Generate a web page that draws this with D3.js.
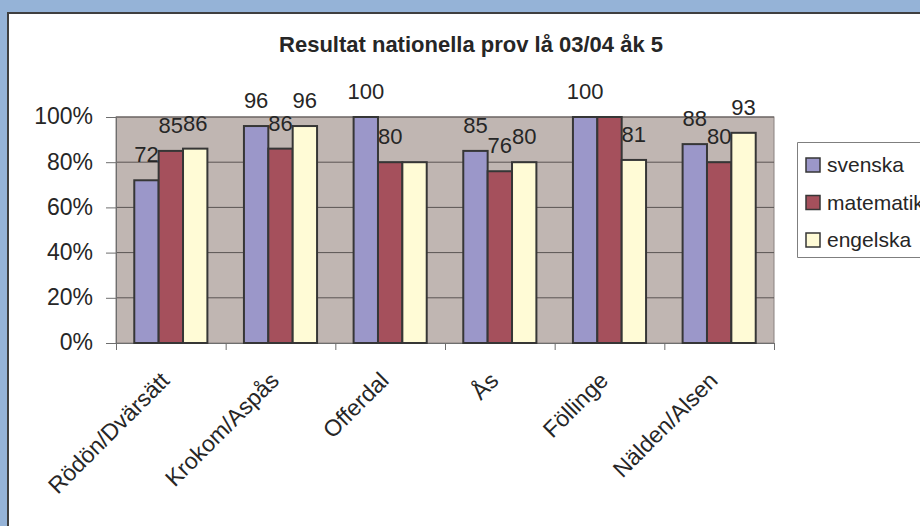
<!DOCTYPE html>
<html>
<head>
<meta charset="utf-8">
<script src="https://cdn.jsdelivr.net/npm/d3@7"></script>
<style>
  html, body { margin: 0; padding: 0; overflow: hidden; background: #95b3d7; }
  svg { display: block; }
  text { font-family: "Liberation Sans", Arial, sans-serif; fill: #262626; }
</style>
</head>
<body>
<script>

//Data
var categories = ["Rödön/Dvärsätt", "Krokom/Aspås", "Offerdal", "Ås", "Föllinge", "Nälden/Alsen"];
var seriesNames = ["svenska", "matematik", "engelska"];
var svenska = [72, 96, 100, 85, 100, 88];
var matematik = [85, 86, 80, 76, 100, 80];
var engelska = [86, 96, 80, 80, 81, 93];
var yTicks = [0, 20, 40, 60, 80, 100];
//labels that are not shown in the original picture
var hiddenLabels = ["Offerdal|engelska", "Föllinge|matematik"];
var chartTitle = "Resultat nationella prov lå 03/04 åk 5";

var colors = { svenska: "#9b97c9", matematik: "#a5505c", engelska: "#fffbd6" };

//Width and height
var w = 920;
var h = 526;
var plot = { left: 116, right: 774, top: 117, bottom: 343 };

//Create SVG element
var svg = d3.select("body")
    .append("svg")
    .attr("width", w)
    .attr("height", h);

svg.append("rect")
    .attr("width", w).attr("height", h)
    .style("fill", "#95b3d7");

//white chart panel, only top and left edges are visible
svg.append("rect")
    .attr("x", 7).attr("y", 12)
    .attr("width", w).attr("height", h)
    .style("fill", "#fff");
svg.append("path")
    .attr("d", "M8," + h + "V13H" + w)
    .style("fill", "none")
    .style("stroke", "#3f3f3f")
    .style("stroke-width", 2);

//Title
svg.append("text")
    .attr("x", 471).attr("y", 52)
    .attr("text-anchor", "middle")
    .style("font-size", "22px")
    .style("font-weight", "bold")
    .text(chartTitle);

//Scales
var x = d3.scaleBand()
    .domain(categories)
    .range([plot.left, plot.right]);

var xSub = d3.scaleBand()
    .domain(seriesNames)
    .range([0, x.bandwidth()])
    .paddingOuter(0.75);

var y = d3.scaleLinear()
    .domain([0, 100])
    .range([plot.bottom, plot.top]);

//Plot background
svg.append("rect")
    .attr("x", plot.left).attr("y", plot.top)
    .attr("width", plot.right - plot.left)
    .attr("height", plot.bottom - plot.top)
    .style("fill", "#c0b6b2")
    .style("stroke", "#8a8280")
    .style("stroke-width", 1);

//Gridlines
svg.append("g").selectAll("line")
    .data(yTicks.slice(1))
    .enter()
    .append("line")
    .attr("x1", plot.left).attr("x2", plot.right)
    .attr("y1", function (d) { return y(d); })
    .attr("y2", function (d) { return y(d); })
    .style("stroke", "#5a5553")
    .style("stroke-width", 1);

//Y axis
var yAxis = svg.append("g")
    .attr("transform", "translate(" + plot.left + ",0)")
    .call(d3.axisLeft(y).tickValues(yTicks).tickSize(10).tickPadding(13)
        .tickFormat(function (d) { return d + "%"; }));
yAxis.select(".domain").style("stroke", "#6e6e6e");
yAxis.selectAll(".tick line").style("stroke", "#6e6e6e");
yAxis.selectAll("text")
    .style("font-size", "23px")
    .style("font-family", "Liberation Sans, Arial, sans-serif")
    .attr("fill", "#262626")
    .attr("dy", "0.3em");

//X axis ticks at category borders
var xEdges = d3.scaleLinear().domain([0, categories.length]).range([plot.left, plot.right]);
var xAxis = svg.append("g")
    .attr("transform", "translate(0," + plot.bottom + ")")
    .call(d3.axisBottom(xEdges).ticks(categories.length).tickSize(7).tickFormat(""));
xAxis.select(".domain").style("stroke", "#6e6e6e");
xAxis.selectAll(".tick line").style("stroke", "#6e6e6e");

//Category labels
svg.append("g").selectAll("text")
    .data(categories)
    .enter()
    .append("text")
    .attr("text-anchor", "end")
    .style("font-size", "23px")
    .attr("transform", function (d) {
        return "translate(" + (x(d) + x.bandwidth() / 2) + "," + 382 + ") rotate(-45)";
    })
    .text(function (d) { return d; });

//build rows
var rows = categories.map(function (c, i) {
    return { cat: c, svenska: svenska[i], matematik: matematik[i], engelska: engelska[i] };
});

var groups = svg.append("g").selectAll(".grp")
    .data(rows)
    .enter()
    .append("g")
    .classed("grp", true)
    .attr("transform", function (d) { return "translate(" + x(d.cat) + ",0)"; });

var bars = groups.selectAll(".bar")
    .data(function (d) {
        return seriesNames.map(function (s) { return { cat: d.cat, key: s, value: d[s] }; });
    })
    .enter();

bars.append("rect")
    .classed("bar", true)
    .attr("x", function (d) { return xSub(d.key); })
    .attr("y", function (d) { return y(d.value); })
    .attr("width", xSub.bandwidth())
    .attr("height", function (d) { return y(0) - y(d.value); })
    .style("fill", function (d) { return colors[d.key]; })
    .style("stroke", "#363636")
    .style("stroke-width", 2);

//value labels
bars.filter(function (d) { return hiddenLabels.indexOf(d.cat + "|" + d.key) < 0; })
    .append("text")
    .attr("x", function (d) { return xSub(d.key) + xSub.bandwidth() / 2; })
    .attr("y", function (d) { return y(d.value) - 18; })
    .attr("text-anchor", "middle")
    .style("font-size", "22px")
    .text(function (d) { return d.value; });

//Legend (right side runs past the edge)
var legend = svg.append("g");
legend.append("rect")
    .attr("x", 797.5).attr("y", 142.5)
    .attr("width", 200).attr("height", 115)
    .style("fill", "#fff");
legend.append("path")
    .attr("d", "M" + w + ",142.5H797.5V257.5H" + w)
    .style("fill", "none")
    .style("stroke", "#7f7f7f")
    .style("stroke-width", 1);

var li = legend.selectAll(".li")
    .data(seriesNames)
    .enter()
    .append("g")
    .attr("transform", function (d, i) { return "translate(0," + (165 + i * 37.5) + ")"; });

li.append("rect")
    .attr("x", 806).attr("y", -7)
    .attr("width", 14).attr("height", 14)
    .style("fill", function (d) { return colors[d]; })
    .style("stroke", "#363636")
    .style("stroke-width", 1.5);

li.append("text")
    .attr("x", 827).attr("y", 7)
    .style("font-size", "21px")
    .text(function (d) { return d; });

</script>
</body>
</html>
